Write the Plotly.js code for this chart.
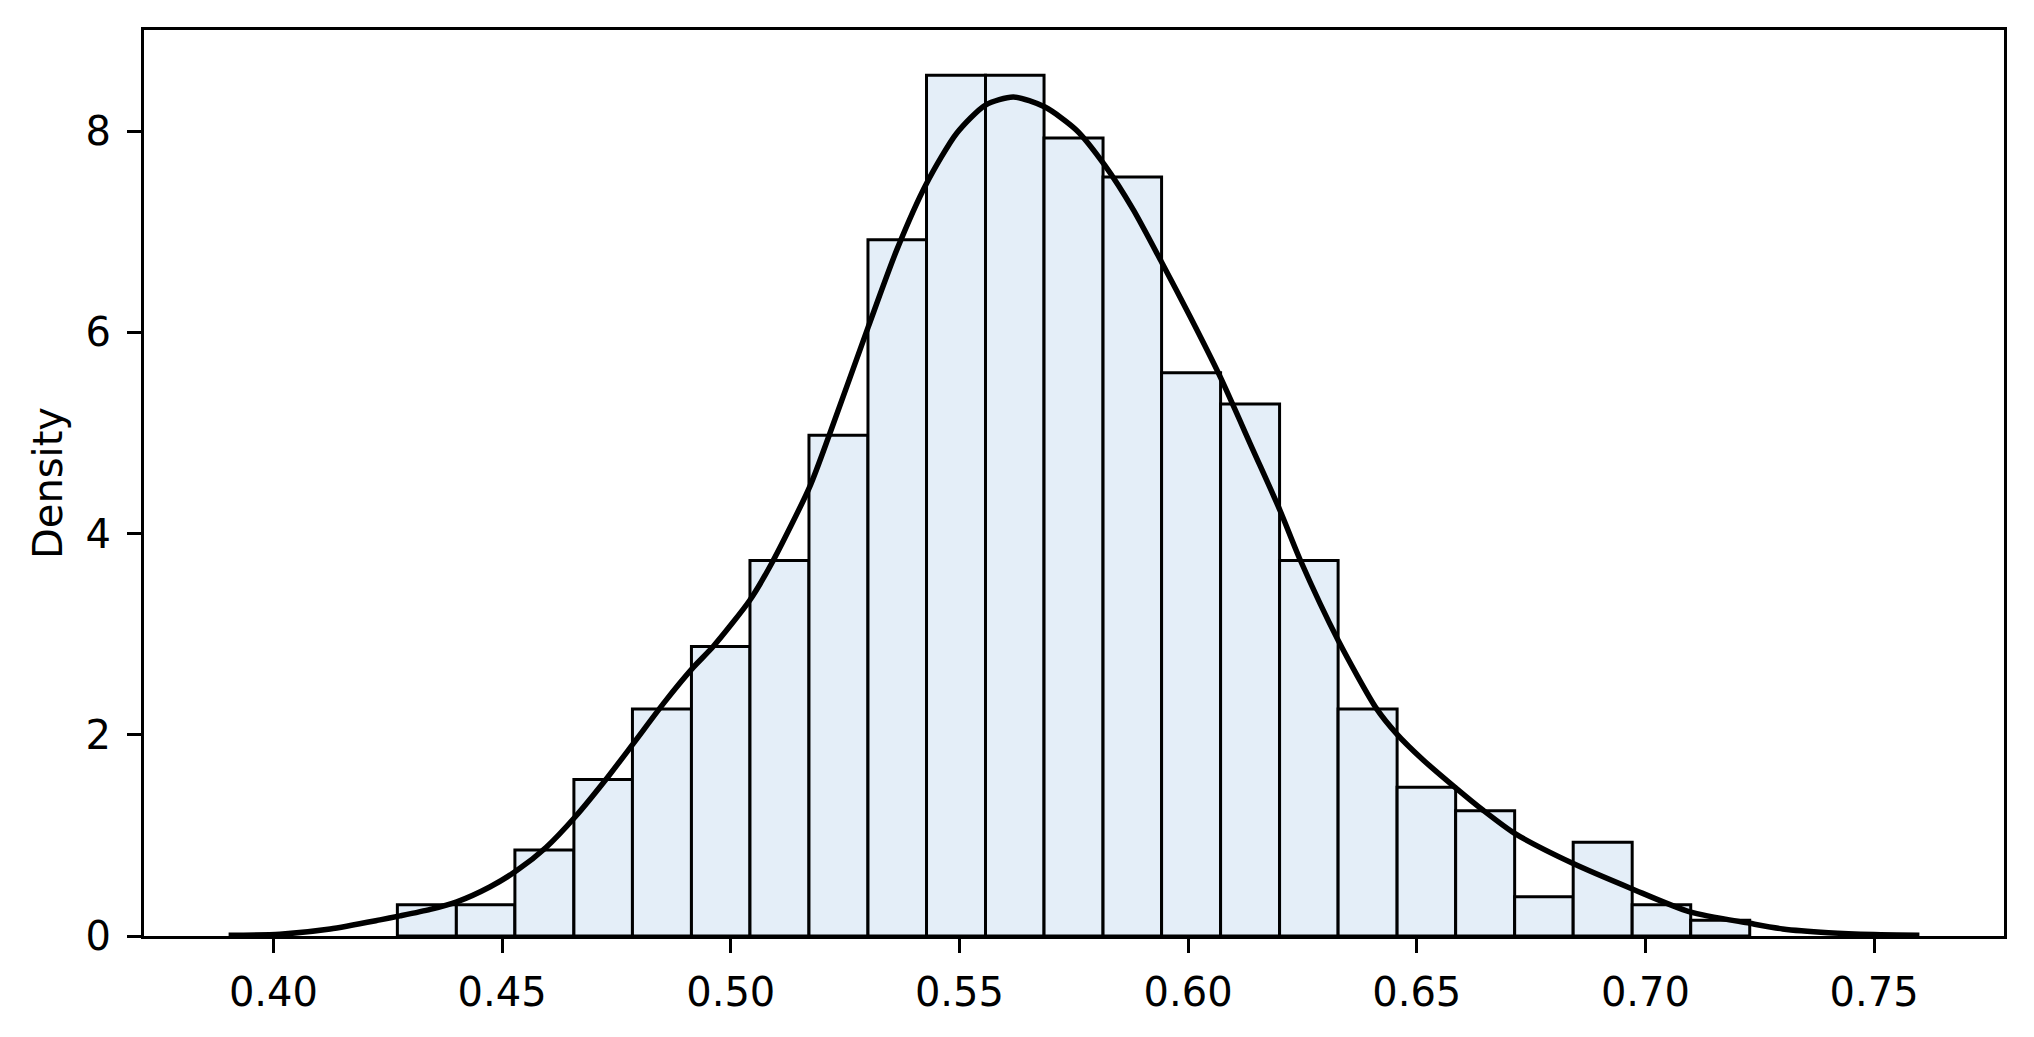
<!DOCTYPE html>
<html>
<head>
<meta charset="utf-8">
<script src="https://cdn.plot.ly/plotly-3.0.1.min.js"></script>
<style>html,body{margin:0;padding:0;background:#fff;}#chart{width:2034px;height:1037px;}</style>
</head>
<body>
<div id="chart"></div>
<script>
// Histogram bin edges
const binEdges = [0.4271,0.4400,0.4528,0.4657,0.4785,0.4914,0.5042,0.5171,0.5300,0.5428,0.5557,0.5685,0.5814,0.5942,0.6071,0.6200,0.6328,0.6457,0.6585,0.6714,0.6842,0.6971,0.7099,0.7228];
// Density of each bin
const binDensity = [0.311,0.311,0.856,1.556,2.256,2.878,3.733,4.978,6.922,8.556,8.556,7.933,7.544,5.600,5.289,3.733,2.256,1.478,1.244,0.389,0.933,0.311,0.156];
// KDE curve points
const kdeX = [0.3902,0.4014,0.4124,0.4233,0.4277,0.4343,0.4401,0.4474,0.4532,0.4596,0.4661,0.4726,0.4788,0.4856,0.4918,0.4962,0.5042,0.5089,0.5173,0.5217,0.5301,0.5363,0.5428,0.5494,0.5557,0.5618,0.5687,0.5756,0.5818,0.5880,0.5943,0.6004,0.6070,0.6142,0.6201,0.6245,0.6328,0.6412,0.6456,0.6514,0.6583,0.6645,0.6714,0.6842,0.6970,0.7097,0.7228,0.7300,0.7400,0.7500,0.7599];
const kdeY = [0.008,0.018,0.070,0.160,0.200,0.265,0.340,0.490,0.650,0.880,1.190,1.550,1.920,2.330,2.670,2.880,3.340,3.700,4.470,5.000,6.060,6.820,7.480,7.980,8.260,8.340,8.240,8.010,7.660,7.220,6.690,6.160,5.560,4.830,4.230,3.740,2.940,2.260,2.010,1.750,1.480,1.250,1.020,0.720,0.470,0.240,0.126,0.070,0.033,0.015,0.008];
const xTicks = [0.40,0.45,0.50,0.55,0.60,0.65,0.70,0.75];
const yTicks = [0,2,4,6,8];

const centers = binDensity.map((_, i) => (binEdges[i] + binEdges[i+1]) / 2);
const widths = binDensity.map((_, i) => binEdges[i+1] - binEdges[i]);

const font = {family: 'DejaVu Sans, sans-serif', size: 40, color: '#000'};

const traces = [
  {
    type: 'bar', x: centers, y: binDensity, width: widths,
    marker: {color: '#e4eef8', line: {color: '#000', width: 3}},
    hoverinfo: 'skip', showlegend: false
  },
  {
    type: 'scatter', mode: 'lines', x: kdeX, y: kdeY,
    line: {color: '#000', width: 5.5, shape: 'spline', smoothing: 0.7},
    hoverinfo: 'skip', showlegend: false
  }
];

const layout = {
  width: 2034, height: 1037,
  margin: {l: 144, r: 30, t: 30, b: 101, pad: 0},
  paper_bgcolor: '#fff', plot_bgcolor: '#fff',
  font: font,
  bargap: 0,
  xaxis: {
    range: [0.3717, 0.7784], tickvals: xTicks, ticktext: xTicks.map(v => v.toFixed(2)),
    ticks: 'outside', ticklen: 14, tickwidth: 3, tickcolor: '#000', ticklabelstandoff: 5,
    showline: true, mirror: true, linecolor: '#000', linewidth: 3,
    showgrid: false, zeroline: false, tickfont: font
  },
  yaxis: {
    range: [0, 9.006], tickvals: yTicks, ticktext: yTicks.map(String),
    ticks: 'outside', ticklen: 14, tickwidth: 3, tickcolor: '#000', ticklabelstandoff: 8,
    showline: true, mirror: true, linecolor: '#000', linewidth: 3,
    showgrid: false, zeroline: false, tickfont: font,
    title: {text: 'Density', font: font, standoff: 11}
  }
};

Plotly.newPlot('chart', traces, layout, {staticPlot: true, displayModeBar: false});
</script>
</body>
</html>
